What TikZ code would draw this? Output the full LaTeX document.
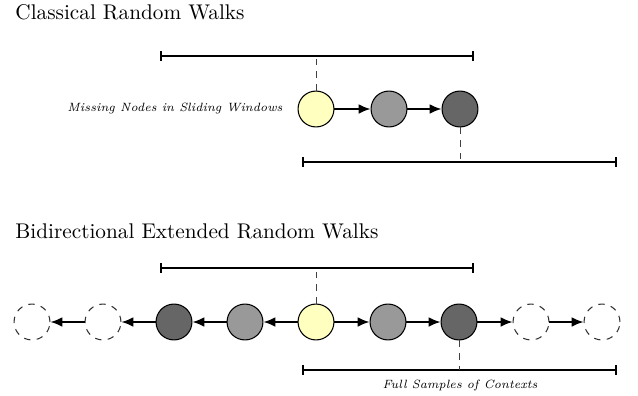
\documentclass[tikz,border=0pt]{standalone}
\usetikzlibrary{arrows.meta}
\definecolor{walkyellow}{RGB}{255,255,192}
\definecolor{walkgray}{RGB}{153,153,153}
\definecolor{walkdark}{RGB}{102,102,102}
\begin{document}
\begin{tikzpicture}[x=0.4706pt,y=-0.4706pt,
  walknode/.style={circle,draw=black,line width=0.5pt,minimum size=16.9pt,inner sep=0pt},
  ghost/.style={circle,draw=black!80,dashed,line width=0.5pt,minimum size=16.9pt,inner sep=0pt},
  walkarrow/.style={-{Latex[length=5.6pt,width=4.6pt]},line width=0.8pt},
  window/.style={{Bar[width=4.6pt]}-{Bar[width=4.6pt]},line width=1.1pt},
  guide/.style={dashed,line width=0.45pt,draw=black!75},
  title/.style={anchor=base west,inner sep=0pt},
  note/.style={font=\fontsize{5.65}{7}\selectfont\itshape,inner sep=0pt}]
\useasboundingbox (0,0) rectangle (638,396);

% ---------- Classical ----------
\node[title] (t1) at (15,19) {Classical Random Walks};
\coordinate (b1l) at (160,56);
\coordinate (b1r) at (474,56);
\coordinate (b1m) at (316,56);
\draw[window] (b1l) -- (b1r);
\node[walknode,fill=walkyellow] (c1) at (316,109) {};
\node[walknode,fill=walkgray] (c2) at (389,109) {};
\node[walknode,fill=walkdark] (c3) at (460,109) {};
\draw[walkarrow] (c1) -- (c2);
\draw[walkarrow] (c2) -- (c3);
\coordinate (b2l) at (302,162);
\coordinate (b2r) at (617,162);
\coordinate (b2m) at (460,162);
\draw[window] (b2l) -- (b2r);
\draw[guide] (c1) -- (b1m);
\draw[guide] (c3) -- (b2m);
\node[note,anchor=east] (miss) at (283,109) {Missing Nodes in Sliding Windows};

% ---------- Bidirectional ----------
\node[title] (t2) at (15,238) {Bidirectional Extended Random Walks};
\coordinate (b3l) at (160,268);
\coordinate (b3r) at (474,268);
\coordinate (b3m) at (316,268);
\draw[window] (b3l) -- (b3r);
\node[ghost] (l4) at (32,322) {};
\node[ghost] (l3) at (103,322) {};
\node[walknode,fill=walkdark] (l2) at (174,322) {};
\node[walknode,fill=walkgray] (l1) at (245,322) {};
\node[walknode,fill=walkyellow] (m0) at (316,322) {};
\node[walknode,fill=walkgray] (r1) at (388,322) {};
\node[walknode,fill=walkdark] (r2) at (459,322) {};
\node[ghost] (r3) at (531,322) {};
\node[ghost] (r4) at (602,322) {};
\draw[walkarrow] (m0) -- (l1);
\draw[walkarrow] (l1) -- (l2);
\draw[walkarrow] (l2) -- (l3);
\draw[walkarrow] (l3) -- (l4);
\draw[walkarrow] (m0) -- (r1);
\draw[walkarrow] (r1) -- (r2);
\draw[walkarrow] (r2) -- (r3);
\draw[walkarrow] (r3) -- (r4);
\coordinate (b4l) at (302,370);
\coordinate (b4r) at (617,370);
\coordinate (b4m) at (459,370);
\draw[window] (b4l) -- (b4r);
\draw[guide] (m0) -- (b3m);
\draw[guide] (r2) -- (b4m);
\node[note] (full) at (460,385) {Full Samples of Contexts};
\end{tikzpicture}
\end{document}
